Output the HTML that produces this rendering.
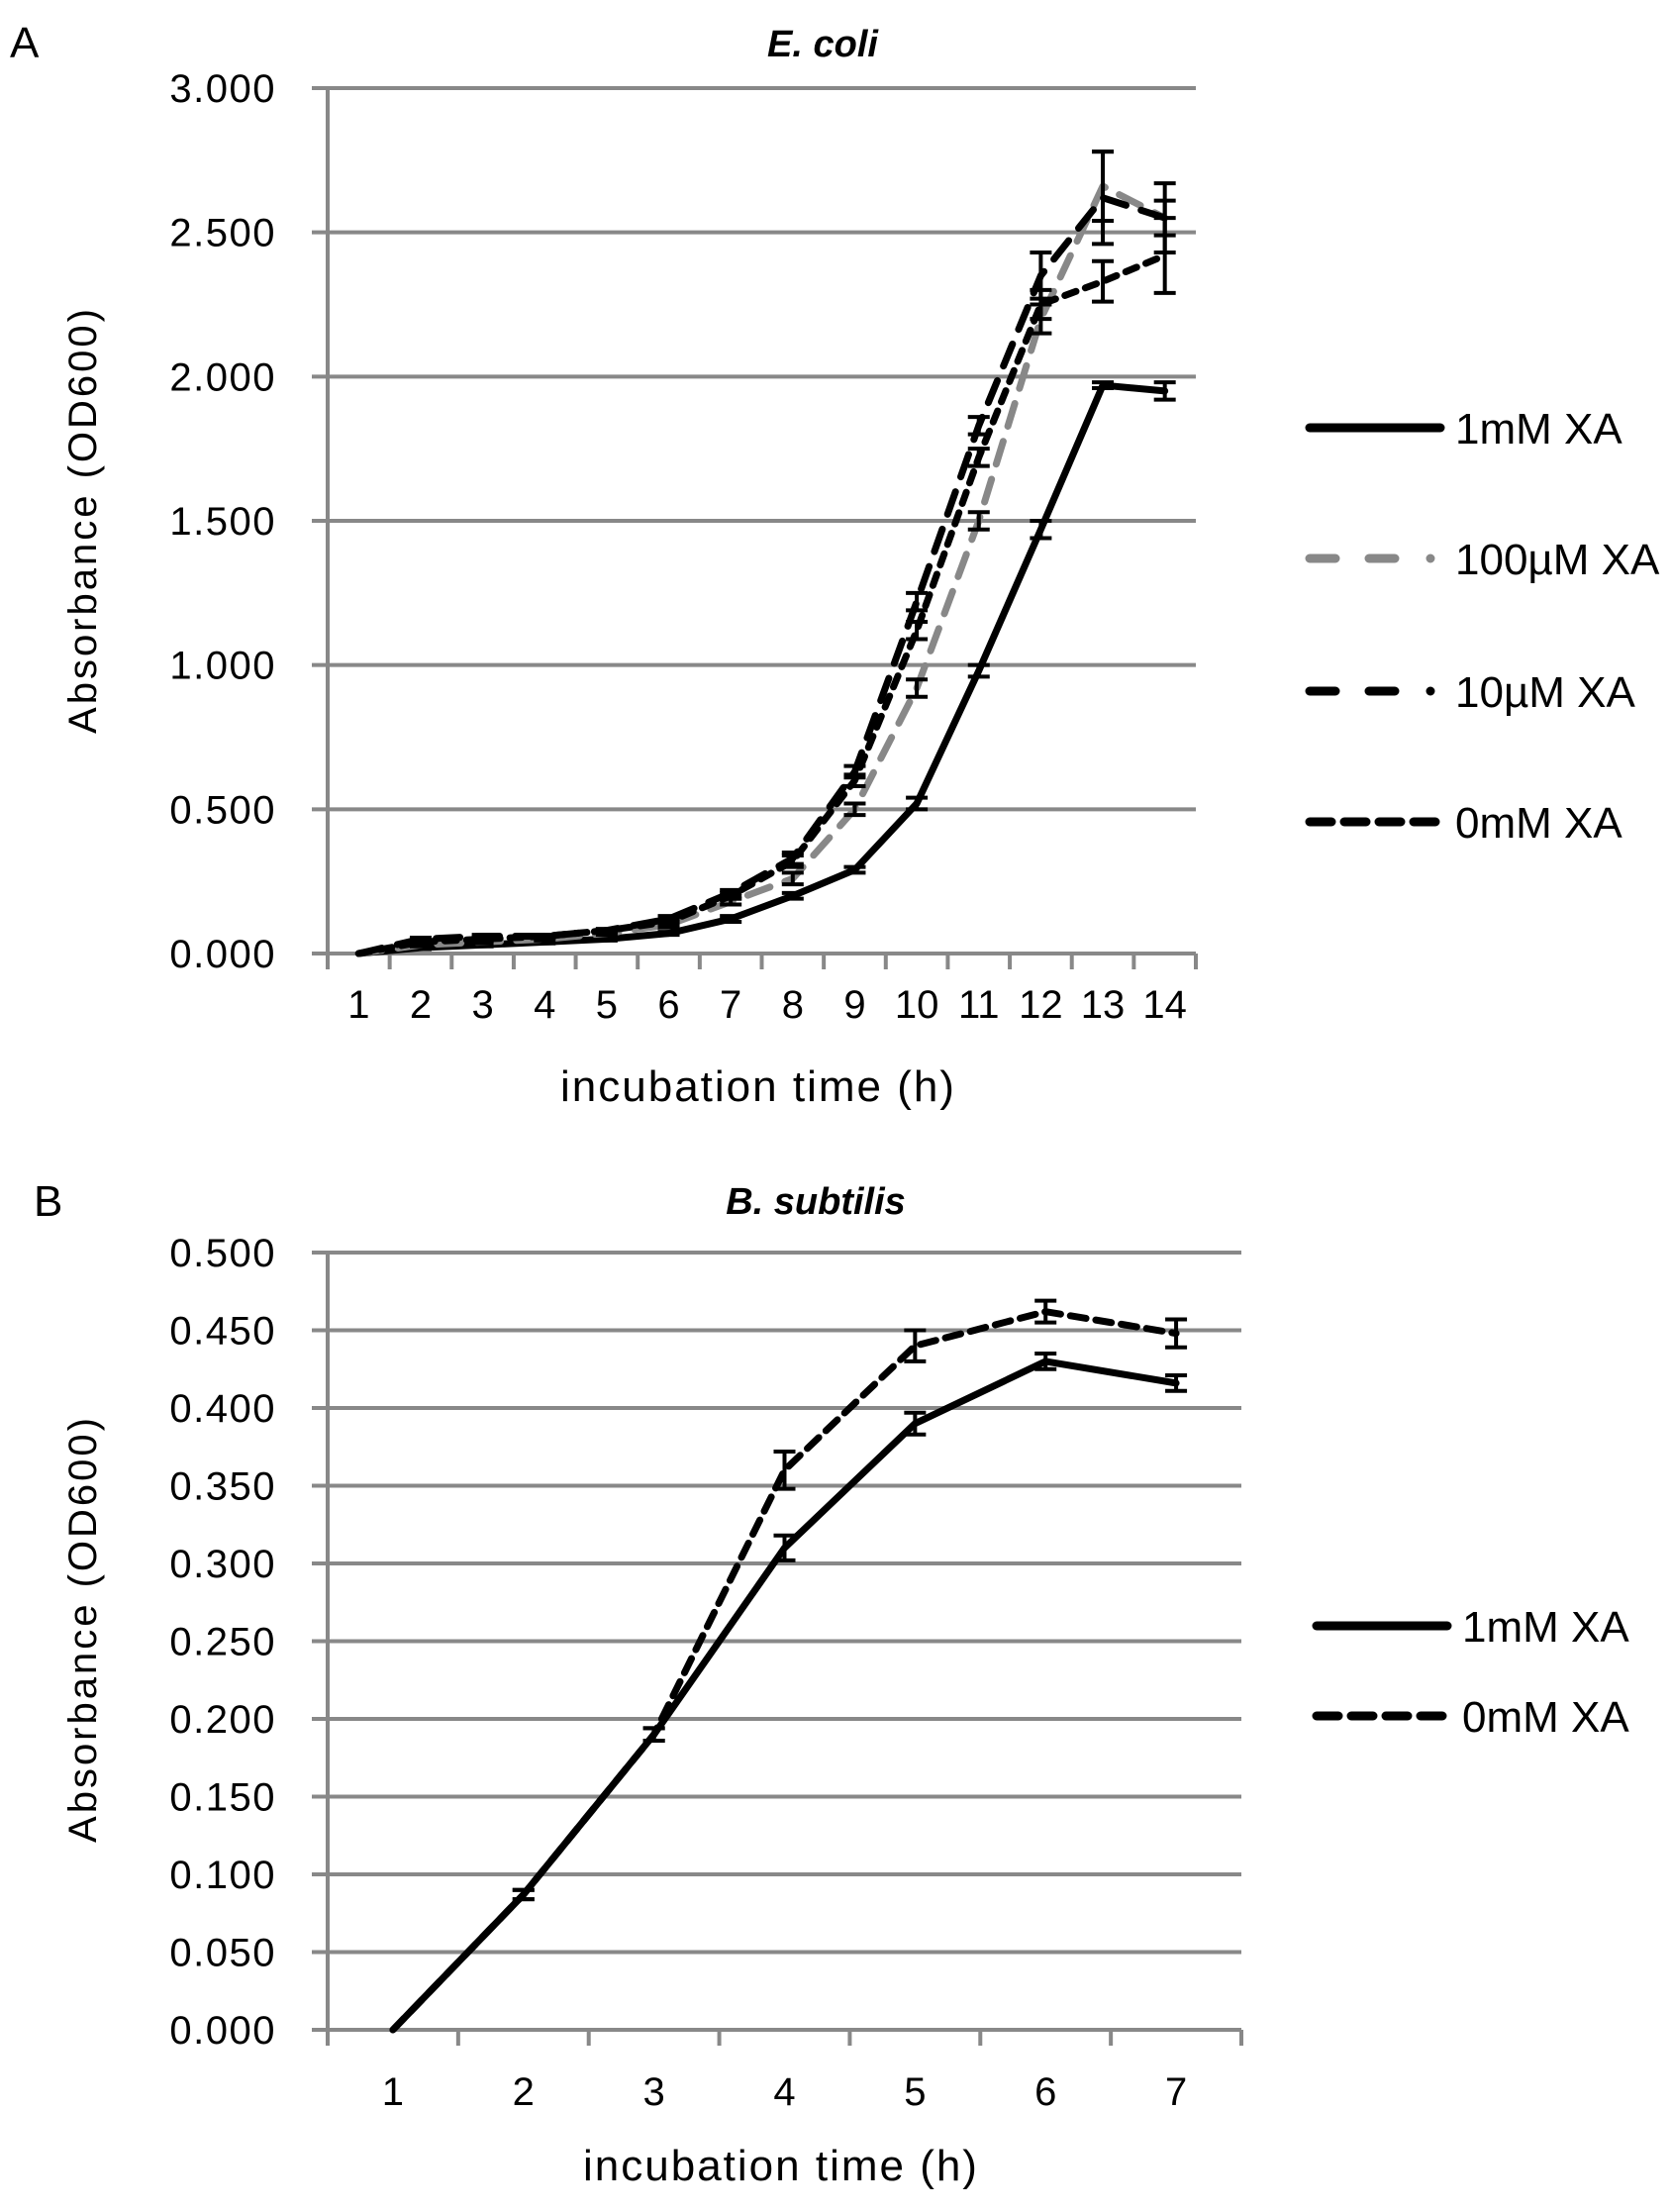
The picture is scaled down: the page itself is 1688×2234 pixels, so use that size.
<!DOCTYPE html>
<html><head><meta charset="utf-8"><style>
body{margin:0;background:#fff}
svg{display:block}
text{font-family:"Liberation Sans",sans-serif;fill:#000}
</style></head><body>
<svg id="svg" width="1688" height="2234" viewBox="0 0 1688 2234" xmlns="http://www.w3.org/2000/svg">
<text x="10" y="58" font-size="44">A</text>
<text x="34" y="1228" font-size="44">B</text>
<g id="gA"></g>
<g id="gB"></g>
</svg>
<script>
// Panel A data (E. coli)
const catsA = ["1","2","3","4","5","6","7","8","9","10","11","12","13","14"];
const ticksA = [0,0.5,1,1.5,2,2.5,3];
const tickLabelsA = ["0.000","0.500","1.000","1.500","2.000","2.500","3.000"];
const a1mM = [0,0.02,0.03,0.04,0.05,0.07,0.12,0.2,0.29,0.52,0.98,1.47,1.97,1.95];
const a1mMErr = [0,0.005,0.005,0.005,0.005,0.005,0.01,0.01,0.01,0.02,0.02,0.03,0.01,0.03];
const a100uM = [0,0.03,0.04,0.05,0.07,0.1,0.18,0.26,0.5,0.92,1.5,2.2,2.66,2.55];
const a100uMErr = [0,0.005,0.005,0.005,0.005,0.01,0.01,0.02,0.02,0.03,0.03,0.05,0.12,0.06];
const a10uM = [0,0.05,0.06,0.06,0.08,0.12,0.21,0.33,0.63,1.22,1.83,2.35,2.62,2.55];
const a10uMErr = [0,0.005,0.005,0.005,0.005,0.01,0.01,0.02,0.02,0.03,0.03,0.08,0.16,0.12];
const a0mM = [0,0.04,0.05,0.06,0.08,0.11,0.2,0.32,0.6,1.12,1.72,2.25,2.33,2.42];
const a0mMErr = [0,0.005,0.005,0.005,0.005,0.01,0.01,0.02,0.02,0.03,0.03,0.05,0.07,0.13];
// Panel B data (B. subtilis)
const catsB = ["1","2","3","4","5","6","7"];
const ticksB = [0,0.05,0.1,0.15,0.2,0.25,0.3,0.35,0.4,0.45,0.5];
const tickLabelsB = ["0.000","0.050","0.100","0.150","0.200","0.250","0.300","0.350","0.400","0.450","0.500"];
const b1mM = [0,0.087,0.19,0.31,0.39,0.43,0.416];
const b1mMErr = [0,0.003,0.004,0.008,0.007,0.005,0.005];
const b0mM = [0,0.087,0.19,0.36,0.44,0.462,0.448];
const b0mMErr = [0,0.003,0.004,0.012,0.01,0.007,0.009];

const NS="http://www.w3.org/2000/svg";
function mk(parent,tag,attrs){const e=document.createElementNS(NS,tag);for(const k in attrs)e.setAttribute(k,attrs[k]);parent.appendChild(e);return e;}

function chart(g,o){
  const L=331,R=o.right,T=o.top,B=o.bottom,ymax=o.ymax;
  const n=o.cats.length,cw=(R-L)/n;
  const xs=i=>L+cw*(i+0.5);
  const ys=v=>B-(v/ymax)*(B-T);
  o.ticks.forEach((t,i)=>{
    const y=ys(t);
    const ln=mk(g,'line',{x1:315,x2:R,y1:y,y2:y,stroke:'#888','stroke-width':4});
    
    
    const tx=mk(g,'text',{x:279,y:y+14,'font-size':40,'text-anchor':'end','letter-spacing':'1.5'});
    tx.textContent=o.tickLabels[i];
    
    
  });
  const ax=mk(g,'line',{x1:L,x2:L,y1:T,y2:B+16,stroke:'#888','stroke-width':4});
  
  
  for(let i=0;i<=n;i++){
    const x=L+cw*i;
    const tk=mk(g,'line',{x1:x,x2:x,y1:B,y2:B+16,stroke:'#888','stroke-width':4});
    
    
  }
  o.cats.forEach((c,i)=>{
    const tx=mk(g,'text',{x:xs(i),y:o.xlabY,'font-size':40,'text-anchor':'middle'});
    tx.textContent=c;
    
    
  });
  o.series.forEach(s=>{
    const pts=s.vals.map((v,i)=>xs(i)+','+ys(v)).join(' ');
    const pl=mk(g,'polyline',{points:pts,fill:'none',stroke:s.color,'stroke-width':7,'stroke-linejoin':'round','stroke-linecap':'round'});
    if(s.dash)pl.setAttribute('stroke-dasharray',s.dash);
    
    
    s.vals.forEach((v,i)=>{
      const e=s.err[i];if(!e)return;
      const eg=mk(g,'g',{stroke:'#000','stroke-width':4});
      
      
      const x=xs(i),y1=ys(v-e),y2=ys(v+e);
      mk(eg,'line',{x1:x,x2:x,y1:y1,y2:y2});
      mk(eg,'line',{x1:x-11,x2:x+11,y1:y1,y2:y1});
      mk(eg,'line',{x1:x-11,x2:x+11,y1:y2,y2:y2});
    });
  });
  o.series.forEach((s,k)=>{
    const y=o.legY[k];
    const lg=mk(g,'g',{});
    
    
    const ln=mk(lg,'line',{x1:o.legX,x2:o.legX+132,y1:y,y2:y,stroke:s.color,'stroke-width':9,'stroke-linecap':'round'});
    if(s.legDash)ln.setAttribute('stroke-dasharray',s.legDash);
    const tx=mk(lg,'text',{x:o.legX+147,y:y+16,'font-size':44});
    tx.textContent=s.label;
  });
  const t=mk(g,'text',{x:o.titleX,y:o.titleY,'font-size':38,'font-weight':'bold','font-style':'italic','text-anchor':'middle'});
  t.textContent=o.title;
  
  
  const xt=mk(g,'text',{x:o.xtX,y:o.xtY,'font-size':44,'text-anchor':'middle','letter-spacing':'2'});
  xt.textContent='incubation time (h)';
  
  
  const yt=mk(g,'text',{x:0,y:0,'font-size':40,'text-anchor':'middle','letter-spacing':'3',transform:'translate(97,'+o.ytY+') rotate(-90)'});
  yt.textContent='Absorbance (OD600)';
  
  
}

chart(document.getElementById('gA'),{
  right:1208,top:89,bottom:963,ymax:3,cats:catsA,ticks:ticksA,tickLabels:tickLabelsA,xlabY:1028,
  title:'E. coli',titleX:831,titleY:57,xtX:766,xtY:1112,ytY:525,legX:1323,legY:[432,564,698,830],
  series:[
    {key:'1mm',label:'1mM XA',vals:a1mM,err:a1mMErr,color:'#000',dash:null,legDash:null},
    {key:'100um',label:'100µM XA',vals:a100uM,err:a100uMErr,color:'#888',dash:'24 16',legDash:'26 34 26 36 0 100'},
    {key:'10um',label:'10µM XA',vals:a10uM,err:a10uMErr,color:'#000',dash:'24 16',legDash:'26 34 26 36 0 100'},
    {key:'0mm',label:'0mM XA',vals:a0mM,err:a0mMErr,color:'#000',dash:'12 10',legDash:'22 13'}
  ]
});
chart(document.getElementById('gB'),{
  right:1254,top:1265,bottom:2050,ymax:0.5,cats:catsB,ticks:ticksB,tickLabels:tickLabelsB,xlabY:2126,
  title:'B. subtilis',titleX:824,titleY:1226,xtX:789,xtY:2202,ytY:1645,legX:1330,legY:[1642,1733],
  series:[
    {key:'1mm',label:'1mM XA',vals:b1mM,err:b1mMErr,color:'#000',dash:null,legDash:null},
    {key:'0mm',label:'0mM XA',vals:b0mM,err:b0mMErr,color:'#000',dash:'16 10',legDash:'22 13'}
  ]
});
</script>
</body></html>
